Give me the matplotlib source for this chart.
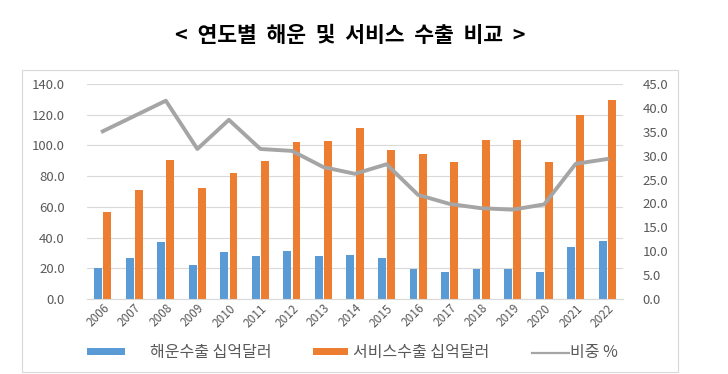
import matplotlib.pyplot as plt
from matplotlib.lines import Line2D
import numpy as np

plt.rcParams['font.family'] = ['Noto Sans CJK KR', 'DejaVu Sans']

years = [str(y) for y in range(2006, 2023)]
shipping = [20.0, 26.7, 37.2, 22.2, 30.7, 28.0, 31.3, 28.0, 28.7, 26.7,
            19.8, 17.6, 19.8, 19.8, 17.6, 33.9, 37.8]
services = [56.7, 71.1, 90.7, 72.4, 82.2, 90.0, 102.4, 103.0, 111.5, 97.2,
            94.6, 89.3, 103.3, 103.3, 89.3, 120.0, 129.8]
share = [35.1, 38.3, 41.5, 31.4, 37.5, 31.4, 31.0, 27.6, 26.2, 28.2,
         21.8, 19.9, 19.0, 18.7, 19.8, 28.3, 29.3]

blue = "#5b9bd5"
orange = "#ed7d31"
gray = "#a5a5a5"
txt = "#595959"

fig = plt.figure(figsize=(7.28, 3.74), dpi=100)
ax = fig.add_axes([87 / 728, 1 - 299 / 374, 536 / 728, 215 / 374])
ax2 = ax.twinx()

x = np.arange(len(years))
w = 0.25
b1 = ax.bar(x - 0.145, shipping, w, color=blue, zorder=2)
b2 = ax.bar(x + 0.145, services, w, color=orange, zorder=2)
ax2.plot(x, share, color=gray, lw=2.8, zorder=3)

ax.set_xlim(-0.5, len(years) - 0.5)
ax.set_ylim(0, 140)
ax.set_yticks(np.arange(0, 141, 20))
ax.set_yticklabels([f"{v:.1f}" for v in np.arange(0, 141, 20)])
ax2.set_ylim(0, 45)
ax2.set_yticks(np.arange(0, 46, 5))
ax2.set_yticklabels([f"{v:.1f}" for v in np.arange(0, 46, 5)])

ax.set_xticks(x)
ax.set_xticklabels(years, rotation=45, ha="right", rotation_mode="anchor")
ax.grid(axis="y", color="#d9d9d9", lw=0.8, zorder=0)
ax.set_axisbelow(True)

for a in (ax, ax2):
    for s in a.spines.values():
        s.set_visible(False)
    a.tick_params(length=0, colors=txt, labelsize=9.5)
ax.spines["bottom"].set_visible(True)
ax.spines["bottom"].set_color("#d9d9d9")
ax.tick_params(axis="y", pad=16)
ax2.tick_params(axis="y", pad=14)
ax.tick_params(axis="x", pad=2, labelsize=8.5)

fig.text(0.481, 1 - 35 / 374, "<  연도별  해운  및  서비스  수출  비교  >",
         ha="center", va="center", fontsize=15.5, fontweight="bold")

# 범례 (항목별 위치가 달라서 따로 배치)
gray_handle = Line2D([], [], color=gray, lw=1.6)
legend_items = [
    (b1, "해운수출 십억달러", 87, 2.35, 1.6),
    (b2, "서비스수출 십억달러", 313, 2.2, 0.3),
    (gray_handle, "비중 %", 532, 2.3, 0.1),
]
for handle, label, left, hl, pad in legend_items:
    leg = fig.legend([handle], [label], loc="center left",
                     bbox_to_anchor=(left / 728, 1 - 353 / 374),
                     frameon=False, fontsize=11.5, labelcolor=txt,
                     handlelength=hl, handleheight=0.3, handletextpad=pad,
                     borderpad=0, borderaxespad=0)

frame = plt.Rectangle((22 / 728, 2 / 374), 656 / 728, 302 / 374,
                      transform=fig.transFigure, fill=False,
                      edgecolor="#d9d9d9", lw=0.8)
fig.patches.append(frame)

fig.savefig("out.png", dpi=100)
